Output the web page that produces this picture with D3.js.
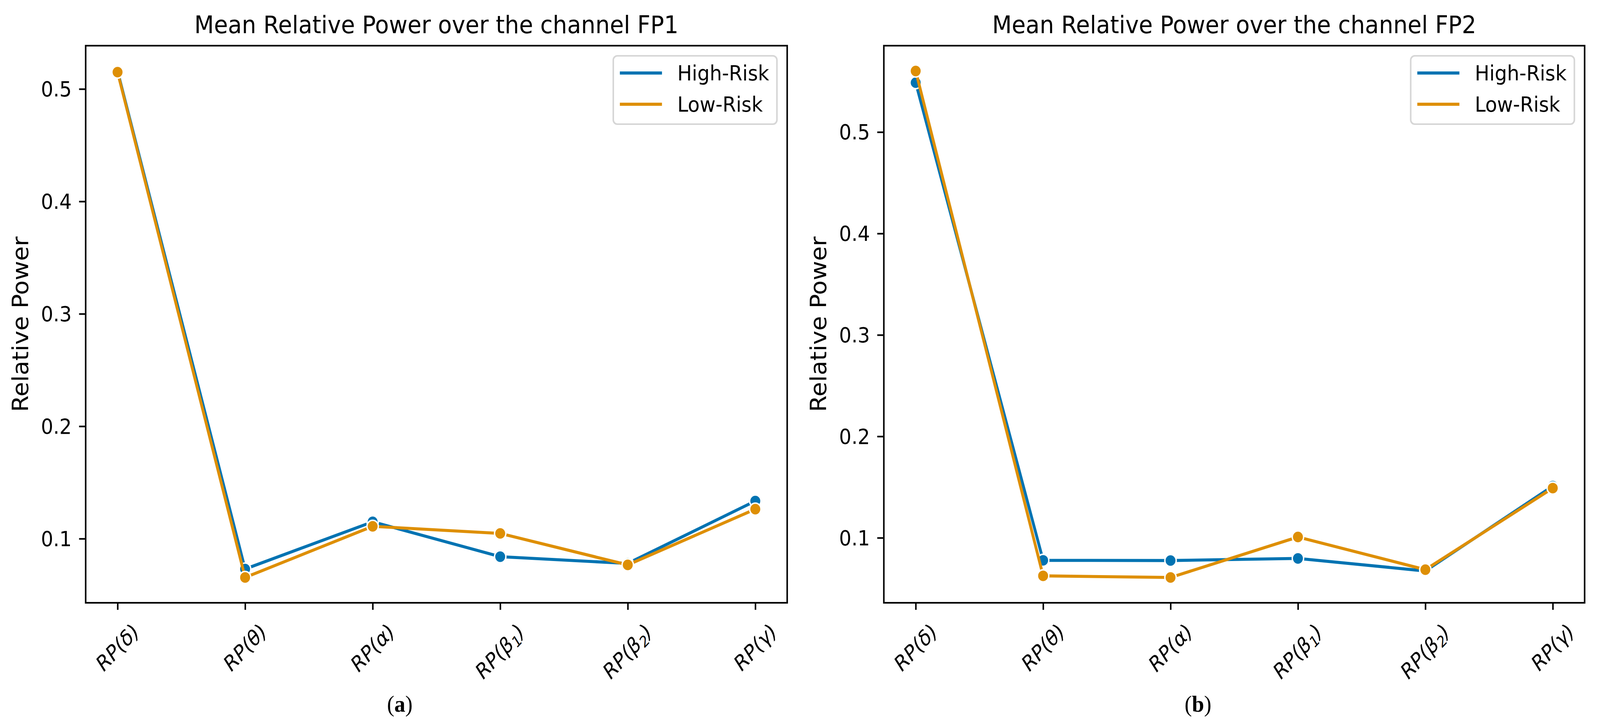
<!DOCTYPE html>
<html>
<head>
<meta charset="utf-8">
<script src="https://cdn.jsdelivr.net/npm/d3@7"></script>
<style>
  html, body { margin: 0; padding: 0; background: #fff; overflow: hidden; }
  svg { display: block; width: 100vw; height: 100vh; font-family: "DejaVu Sans", sans-serif; }
</style>
</head>
<body>
<svg id="chart"></svg>
<script>
// Data ---->
var bandSymbols = ["δ", "θ", "α", "β", "β", "γ"];
var bandSubs = ["", "", "", "1", "2", ""];
var seriesNames = ["High-Risk", "Low-Risk"];
var seriesColors = ["#0173b2", "#de8f05"];

var fp1High = [0.516, 0.073, 0.115, 0.084, 0.078, 0.1335];
var fp1Low = [0.515, 0.0655, 0.111, 0.1047, 0.0767, 0.1263];
var fp2High = [0.5487, 0.0778, 0.0776, 0.0797, 0.0673, 0.151];
var fp2Low = [0.5602, 0.0625, 0.0609, 0.1008, 0.0686, 0.149];

var yTicks = [0.1, 0.2, 0.3, 0.4, 0.5];
// <---- Data

var W = 4370, H = 1857;
var svg = d3.select("#chart")
    .attr("viewBox", "0 0 " + W + " " + H)
    .attr("preserveAspectRatio", "none");

var TOP = 117, BOTTOM = 1544;
var SPINE_W = 4.2, LINE_W = 7.8, TICK_LEN = 18;
var SMALL = 53, BIG = 62;

var panels = [
    {left: 234, right: 2150, title: "Mean Relative Power over the channel FP1",
     series: [fp1High, fp1Low], caption: "a", captionX: 1092, ylabelX: 77},
    {left: 2414, right: 4328, title: "Mean Relative Power over the channel FP2",
     series: [fp2High, fp2Low], caption: "b", captionX: 3272, ylabelX: 2257}
];

function drawPanel(p) {
    var g = svg.append("g");
    var idx = d3.range(bandSymbols.length);

    var x = d3.scalePoint().domain(idx).range([p.left, p.right]).padding(0.25);

    // matplotlib style 5% margins on y
    var all = d3.merge(p.series);
    var lo = d3.min(all), hi = d3.max(all), m = (hi - lo) * 0.05;
    var y = d3.scaleLinear().domain([lo - m, hi + m]).range([BOTTOM, TOP]);

    // y axis
    var ya = g.append("g")
        .attr("transform", "translate(" + p.left + ",0)")
        .call(d3.axisLeft(y).tickValues(yTicks).tickSize(TICK_LEN).tickPadding(20)
              .tickFormat(d3.format(".1f")));
    ya.select(".domain").remove();
    ya.selectAll(".tick line").attr("stroke", "#000").attr("stroke-width", SPINE_W);
    ya.selectAll(".tick text").attr("font-size", SMALL).attr("fill", "#000")
        .attr("font-family", "DejaVu Sans").attr("dy", "0.35em");

    // x axis ticks
    var xa = g.append("g")
        .attr("transform", "translate(0," + BOTTOM + ")")
        .call(d3.axisBottom(x).tickSize(TICK_LEN).tickFormat(""));
    xa.select(".domain").remove();
    xa.selectAll(".tick line").attr("stroke", "#000").attr("stroke-width", SPINE_W);

    // rotated italic tick labels
    idx.forEach(function(i) {
        var t = g.append("text")
            .attr("font-size", SMALL)
            .attr("font-style", "italic")
            .attr("text-anchor", "middle")
            .attr("dy", "0.35em");
        t.append("tspan").text("RP(" + bandSymbols[i]);
        if (bandSubs[i]) {
            t.append("tspan").attr("font-size", SMALL * 0.7).attr("dy", "0.2em").text(bandSubs[i]);
            t.append("tspan").attr("dy", "-0.2em").text(")");
        } else {
            t.append("tspan").text(")");
        }
        var bb = t.node().getBBox();
        var half = (bb.width + bb.height) / (2 * Math.SQRT2);
        var top = BOTTOM + TICK_LEN + 24;
        t.attr("transform", "translate(" + x(i) + "," + (top + half) + ") rotate(-45)");
    });

    // series: line then markers, in order
    var line = d3.line().x(function(d, i) { return x(i); }).y(function(d) { return y(d); });
    p.series.forEach(function(vals, s) {
        g.append("path")
            .datum(vals)
            .attr("d", line)
            .attr("fill", "none")
            .attr("stroke", seriesColors[s])
            .attr("stroke-width", LINE_W)
            .attr("stroke-linejoin", "round")
            .attr("stroke-linecap", "butt");
        g.selectAll(null).data(vals).enter().append("circle")
            .attr("cx", function(d, i) { return x(i); })
            .attr("cy", function(d) { return y(d); })
            .attr("r", 15.5)
            .attr("fill", seriesColors[s])
            .attr("stroke", "#fff")
            .attr("stroke-width", 3.8);
    });

    // spines
    g.append("rect")
        .attr("x", p.left).attr("y", TOP)
        .attr("width", p.right - p.left).attr("height", BOTTOM - TOP)
        .attr("fill", "none").attr("stroke", "#000").attr("stroke-width", SPINE_W);

    // title
    g.append("text")
        .attr("x", (p.left + p.right) / 2).attr("y", 85)
        .attr("text-anchor", "middle").attr("font-size", BIG)
        .text(p.title);

    // y label
    g.append("text")
        .attr("transform", "translate(" + p.ylabelX + "," + ((TOP + BOTTOM) / 2) + ") rotate(-90)")
        .attr("text-anchor", "middle").attr("font-size", BIG - 1)
        .text("Relative Power");

    // legend
    var lg = g.append("g").attr("transform", "translate(" + (p.right - 475) + "," + (TOP + 26) + ")");
    lg.append("rect")
        .attr("width", 447).attr("height", 175).attr("rx", 11)
        .attr("fill", "#fff").attr("fill-opacity", 0.8)
        .attr("stroke", "#d6d6d6").attr("stroke-width", SPINE_W);
    seriesNames.forEach(function(name, s) {
        var ly = 44 + s * 80;
        lg.append("line")
            .attr("x1", 18).attr("x2", 133).attr("y1", ly).attr("y2", ly)
            .attr("stroke", seriesColors[s]).attr("stroke-width", LINE_W);
        lg.append("text")
            .attr("x", 175).attr("y", ly).attr("dy", "0.35em")
            .attr("font-size", SMALL).text(name);
    });

    // caption
    var cap = svg.append("text")
        .attr("x", p.captionX).attr("y", 1823)
        .attr("text-anchor", "middle")
        .attr("font-family", "Liberation Serif, serif")
        .attr("font-size", 60);
    cap.append("tspan").text("(");
    cap.append("tspan").attr("font-weight", "bold").text(p.caption);
    cap.append("tspan").text(")");
}

panels.forEach(drawPanel);
</script>
</body>
</html>
